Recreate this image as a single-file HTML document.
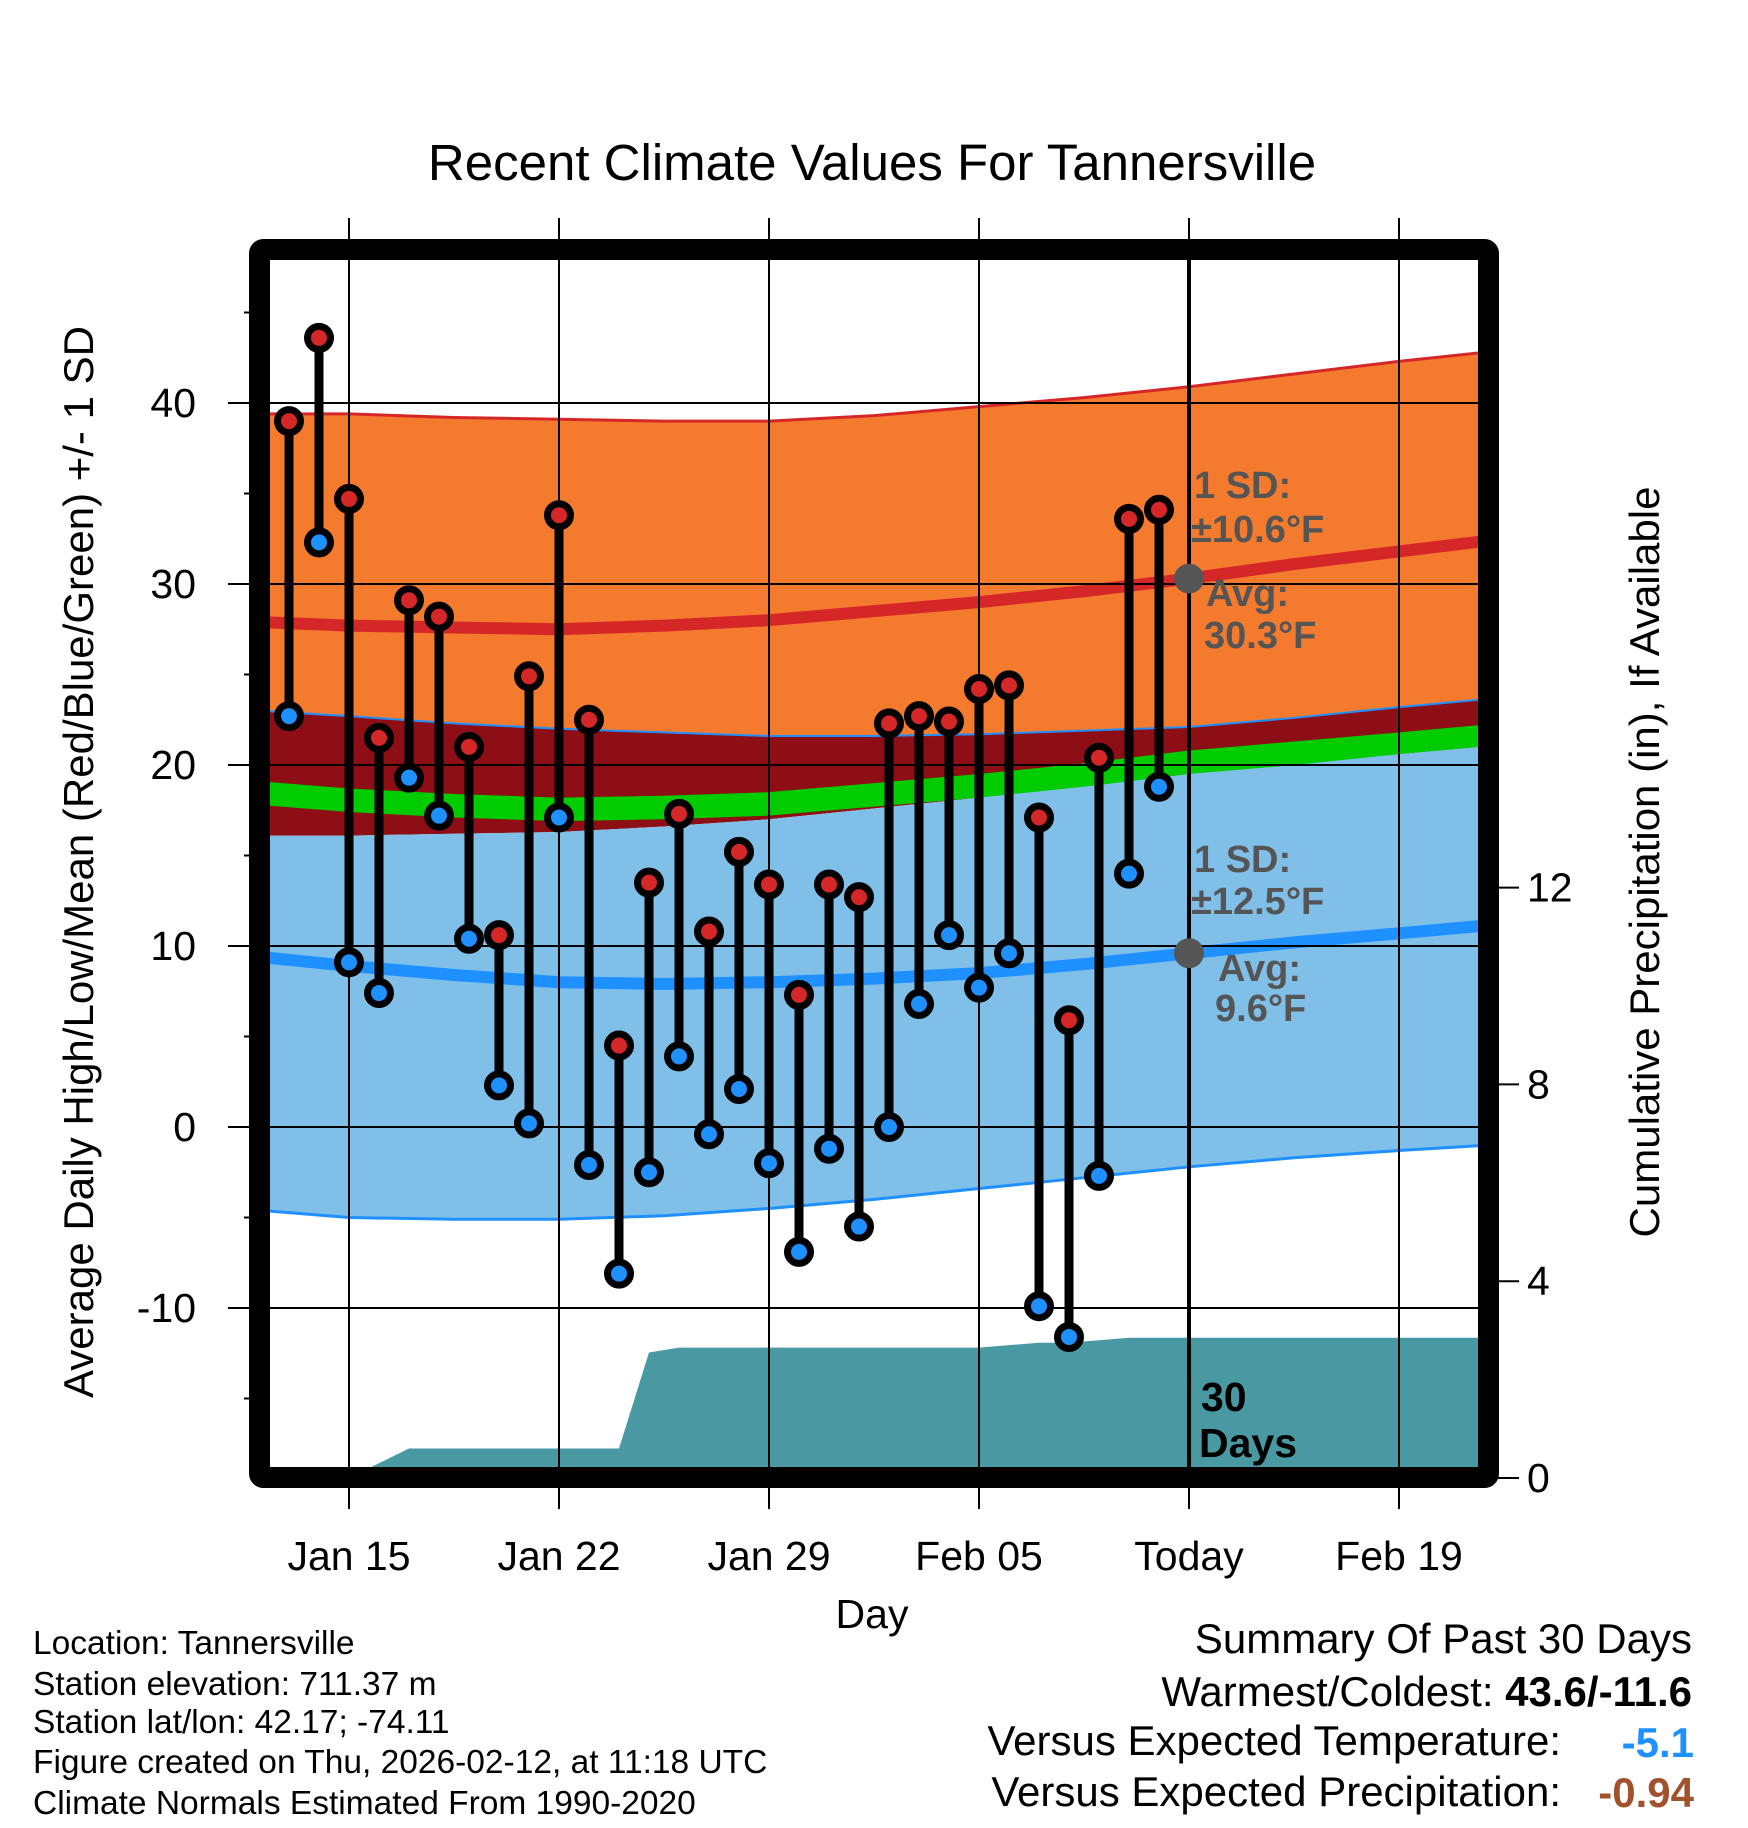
<!DOCTYPE html>
<html><head><meta charset="utf-8"><style>
html,body{margin:0;padding:0;background:#fff}
svg{display:block;font-family:"Liberation Sans",Arial,sans-serif}
</style></head><body>
<svg id="chart" width="1748" height="1828" viewBox="0 0 1748 1828" xmlns="http://www.w3.org/2000/svg">
<defs><clipPath id="plotclip"><rect x="270" y="260" width="1208" height="1208"/></clipPath></defs>
<g id="bands" clip-path="url(#plotclip)"></g>
<g id="grid"></g>
<g id="marks"></g>
<g id="axes"></g>
<text x="872" y="180" font-size="51" text-anchor="middle">Recent Climate Values For Tannersville</text>
<text transform="translate(93,862) rotate(-90)" font-size="42" text-anchor="middle">Average Daily High/Low/Mean (Red/Blue/Green) +/- 1 SD</text>
<text transform="translate(1659,862) rotate(-90)" font-size="42" text-anchor="middle">Cumulative Precipitation (in), If Available</text>
<text x="872" y="1628" font-size="41" text-anchor="middle">Day</text>
<g font-size="33.5">
<text x="33" y="1654">Location: Tannersville</text>
<text x="33" y="1695">Station elevation: 711.37 m</text>
<text x="33" y="1733">Station lat/lon: 42.17; -74.11</text>
<text x="33" y="1773">Figure created on Thu, 2026-02-12, at 11:18 UTC</text>
<text x="33" y="1814">Climate Normals Estimated From 1990-2020</text>
</g>
<g font-size="42" text-anchor="end">
<text x="1692" y="1653">Summary Of Past 30 Days</text>
<text x="1692" y="1706">Warmest/Coldest: <tspan font-weight="bold">43.6/-11.6</tspan></text>
<text x="1561" y="1755">Versus Expected Temperature:</text>
<text x="1694" y="1757" font-weight="bold" fill="#1e90ff">-5.1</text>
<text x="1561" y="1806">Versus Expected Precipitation:</text>
<text x="1694" y="1807" font-weight="bold" fill="#a0522d">-0.94</text>
</g>
</svg>
<script>
// daily data, starting Jan 13
const highs=[39.0,43.6,34.7,21.5,29.1,28.2,21.0,10.6,24.9,33.8,22.5,4.5,13.5,17.3,10.8,15.2,13.4,7.3,13.4,12.7,22.3,22.7,22.4,24.2,24.4,17.1,5.9,20.4,33.6,34.1];
const lows=[22.7,32.3,9.1,7.4,19.3,17.2,10.4,2.3,0.2,17.1,-2.1,-8.1,-2.5,3.9,-0.4,2.1,-2.0,-6.9,-1.2,-5.5,0.0,6.8,10.6,7.7,9.6,-9.9,-11.6,-2.7,14.0,18.8];
const precipCum=[0,0,0,0.3,0.6,0.6,0.6,0.6,0.6,0.6,0.6,0.6,2.55,2.65,2.65,2.65,2.65,2.65,2.65,2.65,2.65,2.65,2.65,2.65,2.7,2.75,2.75,2.8,2.85,2.85];
// normals at day offsets from Jan 15
const normDays=[-3,0,3.5,7,10.5,14,17.5,21,24.5,28,31.5,35,39];
const highUpper=[39.4,39.4,39.2,39.1,39.0,39.0,39.3,39.8,40.3,40.9,41.6,42.3,43.0];
const highAvg=[27.9,27.7,27.6,27.5,27.7,28.0,28.5,29.0,29.6,30.3,31.1,31.8,32.6];
const highLower=[23.0,22.7,22.3,22.0,21.8,21.6,21.6,21.7,21.9,22.1,22.6,23.2,23.8];
const meanUpper=[19.1,18.7,18.4,18.2,18.3,18.5,19.0,19.5,20.1,20.8,21.3,21.8,22.4];
const meanLower=[17.8,17.4,17.1,16.9,17.0,17.2,17.7,18.2,18.8,19.5,20.0,20.6,21.2];
const lowUpper=[16.1,16.1,16.2,16.3,16.6,17.0,17.6,18.2,18.9,19.7,20.2,20.6,21.2];
const lowAvg=[9.4,8.9,8.4,8.0,7.9,8.0,8.2,8.5,9.0,9.6,10.2,10.7,11.3];
const lowLower=[-4.6,-5.0,-5.1,-5.1,-4.9,-4.5,-4.0,-3.4,-2.8,-2.2,-1.7,-1.3,-0.9];
const xTickLabels=["Jan 15","Jan 22","Jan 29","Feb 05","Today","Feb 19"];
const yTicks=[-10,0,10,20,30,40];
const y2Ticks=[0,4,8,12];

const NS="http://www.w3.org/2000/svg";
const X=d=>349+d*30;
const Y=v=>1127-v*18.1;
const P=p=>1478-p*49.2;
function mk(tag,attrs,parent){const e=document.createElementNS(NS,tag);for(const k in attrs)e.setAttribute(k,attrs[k]);parent.appendChild(e);return e;}
const bands=document.getElementById('bands'),grid=document.getElementById('grid'),marks=document.getElementById('marks'),axes=document.getElementById('axes');
function line(arr){return normDays.map((d,i)=>X(d)+','+Y(arr[i])).join(' ');}
function area(top,bot){return line(top)+' '+normDays.map((d,i)=>X(d)+','+Y(bot[i])).reverse().join(' ');}

let e;
e=mk('polygon',{points:area(highUpper,highLower),fill:'#f47a2e'},bands);

e=mk('polygon',{points:area(highLower,lowUpper),fill:'#8e0e15'},bands);

e=mk('polygon',{points:area(lowUpper,lowLower),fill:'#80c0e8'},bands);

e=mk('polygon',{points:area(meanUpper,meanLower),fill:'#00cc00'},bands);

e=mk('polyline',{points:line(highUpper),fill:'none',stroke:'#d62728','stroke-width':3},bands);

e=mk('polyline',{points:line(lowLower),fill:'none',stroke:'#1e90ff','stroke-width':3},bands);

e=mk('polyline',{points:line(highLower),fill:'none',stroke:'#1e90ff','stroke-width':2},bands);

e=mk('polyline',{points:line(highAvg),fill:'none',stroke:'#d62728','stroke-width':12},bands);

e=mk('polyline',{points:line(lowAvg),fill:'none',stroke:'#1e90ff','stroke-width':12},bands);

let pp=precipCum.map((p,i)=>X(i-2)+','+P(p));
pp.push(X(40)+','+P(precipCum[precipCum.length-1]));
pp.push(X(40)+','+P(-1));pp.push(X(-2)+','+P(-1));pp.unshift(X(-4)+','+P(0));
e=mk('polygon',{points:pp.join(' '),fill:'#4899a2'},bands);


yTicks.forEach(v=>{
  e=mk('line',{x1:228,x2:1478,y1:Y(v),y2:Y(v),stroke:'#000','stroke-width':2},grid);
  
  e=mk('text',{x:196,y:Y(v)+14,'font-size':41,'text-anchor':'end'},axes);e.textContent=v;
  
});
for(let v=-15;v<=45;v+=10){
  e=mk('line',{x1:244,x2:250,y1:Y(v),y2:Y(v),stroke:'#000','stroke-width':2},axes);
  
}
xTickLabels.forEach((t,i)=>{
  const x=X(i*7);
  e=mk('line',{x1:x,x2:x,y1:218,y2:1509,stroke:'#000','stroke-width':2},grid);
  
  e=mk('text',{x:x,y:1570,'font-size':41,'text-anchor':'middle'},axes);e.textContent=t;
  
});
y2Ticks.forEach(p=>{
  e=mk('line',{x1:1490,x2:1519,y1:P(p),y2:P(p),stroke:'#000','stroke-width':2},axes);
  
  e=mk('text',{x:1527,y:P(p)+14,'font-size':41},axes);e.textContent=p;
  
});
e=mk('line',{x1:X(28),x2:X(28),y1:260,y2:1470,stroke:'#000','stroke-width':4},marks);


highs.forEach((h,i)=>{
  const x=X(i-2);
  e=mk('line',{x1:x,x2:x,y1:Y(h),y2:Y(lows[i]),stroke:'#000','stroke-width':9},marks);
  
});
highs.forEach((h,i)=>{
  const x=X(i-2);
  e=mk('circle',{cx:x,cy:Y(h),r:11.5,fill:'#d62728',stroke:'#000','stroke-width':7},marks);
  
  e=mk('circle',{cx:x,cy:Y(lows[i]),r:11.5,fill:'#1e90ff',stroke:'#000','stroke-width':7},marks);
  
});
[highAvg[9],lowAvg[9]].forEach(v=>{
  e=mk('circle',{cx:X(28),cy:Y(v),r:15,fill:'#555'},marks);
  
});
const ann=[["1 SD:",1194,498],["±10.6°F",1191,542],["Avg:",1206,606],["30.3°F",1204,648],["1 SD:",1194,872],["±12.5°F",1191,914],["Avg:",1218,981],["9.6°F",1215,1021]];
ann.forEach(a=>{
  e=mk('text',{x:a[1],y:a[2],'font-size':38,'font-weight':'bold',fill:'#555'},marks);e.textContent=a[0];
  
});
e=mk('text',{x:1201,y:1411,'font-size':41,'font-weight':'bold'},marks);e.textContent='30';

e=mk('text',{x:1199,y:1457,'font-size':41,'font-weight':'bold'},marks);e.textContent='Days';

e=mk('rect',{x:259.5,y:249.5,width:1229,height:1228,fill:'none',stroke:'#000','stroke-width':21,rx:4},axes);

</script>
</body></html>
